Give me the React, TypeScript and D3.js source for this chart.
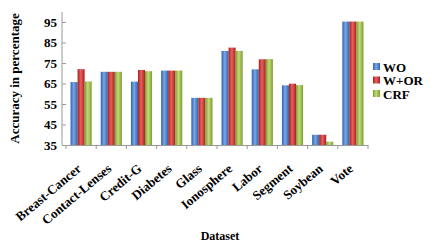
import { axisBottom, axisLeft, scaleBand, scaleLinear, select } from "d3";
import { FC, useEffect, useRef } from "react";

const datasets = [
  "Breast-Cancer",
  "Contact-Lenses",
  "Credit-G",
  "Diabetes",
  "Glass",
  "Ionosphere",
  "Labor",
  "Segment",
  "Soybean",
  "Vote",
];
const seriesNames = ["WO", "W+OR", "CRF"];
const woValues = [65.7, 70.7, 65.9, 71.3, 58.0, 80.9, 71.9, 64.1, 40.0, 95.2];
const worValues = [72.0, 70.7, 71.6, 71.3, 58.0, 82.5, 76.8, 64.9, 40.0, 95.2];
const crfValues = [66.0, 70.7, 71.0, 71.3, 58.0, 80.9, 76.9, 64.2, 36.6, 95.2];
const yTicks = [35, 45, 55, 65, 75, 85, 95];

const colors = [
  ["#2e64ad", "#7aa6e6"],
  ["#a8201e", "#e8605c"],
  ["#7c9c2e", "#c2dc78"],
];

const W = 436;
const H = 248;
const margin = { left: 66, top: 10, right: 68, bottom: 103 };

const App: FC = () => {
  const svgRef = useRef<SVGSVGElement>(null);

  useEffect(() => {
    const svg = select(svgRef.current);
    svg.selectAll("*").remove();

    const x0 = scaleBand()
      .domain(datasets)
      .range([margin.left, W - margin.right])
      .paddingInner(0.3)
      .paddingOuter(0.15);
    const x1 = scaleBand()
      .domain(seriesNames)
      .range([0, x0.bandwidth()]);
    const y = scaleLinear().domain([35, 95]).range([H - margin.bottom, 22]);

    const defs = svg.append("defs");
    colors.forEach((c, i) => {
      const g = defs
        .append("linearGradient")
        .attr("id", "grad" + i)
        .attr("x1", "0")
        .attr("x2", "1")
        .attr("y1", "0")
        .attr("y2", "0");
      g.append("stop").attr("offset", "0").attr("stop-color", c[0]);
      g.append("stop").attr("offset", "0.45").attr("stop-color", c[1]);
      g.append("stop").attr("offset", "1").attr("stop-color", c[0]);
    });

    const series = [woValues, worValues, crfValues];
    const rows = datasets.map((d, i) => ({
      name: d,
      vals: series.map((s, j) => ({ key: seriesNames[j], idx: j, v: s[i] })),
    }));

    svg
      .append("g")
      .selectAll("g")
      .data(rows)
      .join("g")
      .attr("transform", (d) => `translate(${x0(d.name)},0)`)
      .selectAll("rect")
      .data((d) => d.vals)
      .join("rect")
      .attr("x", (d) => x1(d.key)!)
      .attr("width", x1.bandwidth())
      .attr("y", (d) => y(d.v))
      .attr("height", (d) => y(35) - y(d.v))
      .attr("fill", (d) => `url(#grad${d.idx})`);

    // y axis
    const yAxis = svg
      .append("g")
      .attr("transform", `translate(${margin.left},0)`)
      .call(axisLeft(y).tickValues(yTicks).tickSize(4).tickPadding(5));
    yAxis.select(".domain").attr("stroke", "#999").attr("d", `M-4,${y(35)}V12`);
    yAxis.selectAll(".tick line").attr("stroke", "#999");
    yAxis
      .selectAll("text")
      .attr("font-family", "Liberation Serif")
      .attr("font-weight", "bold")
      .attr("font-size", 13)
      .attr("fill", "#000");

    // x axis
    const xAxis = svg
      .append("g")
      .attr("transform", `translate(0,${y(35)})`)
      .call(axisBottom(x0).tickSize(0).tickFormat(() => ""));
    xAxis.select(".domain").attr("stroke", "#999");
    xAxis.selectAll(".tick").remove();
    const step = x0.step();
    const bounds = datasets.map((_, i) => margin.left + i * step).concat([W - margin.right]);
    xAxis
      .selectAll("line.sep")
      .data(bounds)
      .join("line")
      .attr("class", "sep")
      .attr("x1", (d) => d)
      .attr("x2", (d) => d)
      .attr("y1", 0)
      .attr("y2", 4)
      .attr("stroke", "#999");

    svg
      .append("g")
      .selectAll("text")
      .data(datasets)
      .join("text")
      .attr("transform", (d) => `translate(${x0(d)! + x0.bandwidth() / 2 + 1},${y(35) + 25}) rotate(-40)`)
      .attr("text-anchor", "end")
      .attr("font-family", "Liberation Serif")
      .attr("font-weight", "bold")
      .attr("font-size", 13)
      .text((d) => d);

    svg
      .append("text")
      .attr("x", 220)
      .attr("y", 240)
      .attr("text-anchor", "middle")
      .attr("font-family", "Liberation Serif")
      .attr("font-weight", "bold")
      .attr("font-size", 12)
      .text("Dataset");

    svg
      .append("text")
      .attr("transform", `translate(19,${(y(35) + 12) / 2}) rotate(-90)`)
      .attr("text-anchor", "middle")
      .attr("font-family", "Liberation Serif")
      .attr("font-weight", "bold")
      .attr("font-size", 13)
      .text("Accuracy in percentage");

    // legend
    const legend = svg
      .append("g")
      .selectAll("g")
      .data(seriesNames)
      .join("g")
      .attr("transform", (_, i) => `translate(373,${67 + i * 13.5})`);
    legend
      .append("rect")
      .attr("x", 0)
      .attr("y", -4)
      .attr("width", 7)
      .attr("height", 7)
      .attr("fill", (_, i) => `url(#grad${i})`);
    legend
      .append("text")
      .attr("x", 10)
      .attr("y", 4.5)
      .attr("font-family", "Liberation Serif")
      .attr("font-weight", "bold")
      .attr("font-size", 13)
      .text((d) => d);
  }, []);

  return <svg ref={svgRef} width={W} height={H} style={{ display: "block", position: "absolute", left: 0, top: 0 }}></svg>;
};

export default App;
